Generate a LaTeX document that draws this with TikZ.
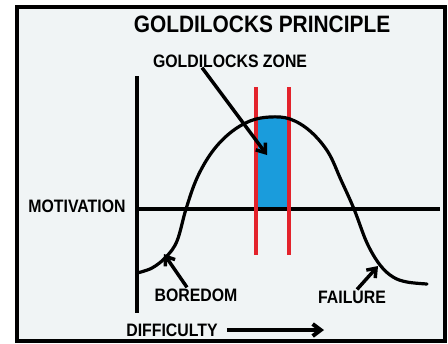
\documentclass[tikz,border=0pt]{standalone}
\usepackage{fontspec}
\newfontfamily\capsfont[FakeStretch=0.88]{Liberation Sans}
\usetikzlibrary{arrows.meta, calc}
\definecolor{paper}{HTML}{F0F4F5}
\definecolor{zoneblue}{HTML}{1A9CDC}
\definecolor{limitred}{HTML}{E3222B}

\begin{document}
\begin{tikzpicture}[
  x=0.75pt, y=-0.75pt,
  lbl/.style={inner sep=0pt, font=\capsfont\bfseries\fontsize{13.5}{15}\selectfont},
  ttl/.style={inner sep=0pt, font=\capsfont\bfseries\fontsize{17.8}{20}\selectfont},
  ln/.style={draw=black, line width=2.4pt},
  redline/.style={draw=limitred, line width=2.4pt},
  ar/.style={-{Straight Barb[length=6pt, width=9pt]}, line width=2.6pt}
]
% --- frame ---
\useasboundingbox (0,0) rectangle (448,343);
\fill[white] (0,0) rectangle (448,343);
\draw[fill=paper, line width=2.4pt] (17,7) rectangle (445,341);

% --- zone under the curve ---
\begin{scope}
  \clip (256,0) rectangle (289,209);
  \fill[zoneblue] plot[smooth, tension=0.6] coordinates {
    (137,273) (152,268) (166,257) (177,241) (186,209) (197,178) (212,152)
    (230,133) (250,121) (270,117) (290,119) (310,131) (328,152) (341,180)
    (354,209) (367,243) (380,265) (393,277) (407,282) (427,284)}
    -- (427,343) -- (137,343) -- cycle;
\end{scope}

% --- axes ---
\path[ln] (137,76) -- (137,313);
\path[ln] (137,209) -- (440,209);

% --- zone limits ---
\path[redline] (256,87) -- (256,255);
\path[redline] (289,87) -- (289,255);

% --- motivation curve ---
\path[ln, line join=round, line cap=round] plot[smooth, tension=0.6] coordinates {
  (137,273) (152,268) (166,257) (177,241) (186,209) (197,178) (212,152)
  (230,133) (250,121) (270,117) (290,119) (310,131) (328,152) (341,180)
  (354,209) (367,243) (380,265) (393,277) (407,282) (427,284)};

% --- labels ---
\node[ttl] (title)      at (262,24)  {GOLDILOCKS PRINCIPLE};
\node[lbl] (gzone)      at (230,61)  {GOLDILOCKS ZONE};
\node[lbl] (motivation) at (77,206)  {MOTIVATION};
\node[lbl] (boredom)    at (196,295) {BOREDOM};
\node[lbl] (failure)    at (352,297) {FAILURE};
\node[lbl] (difficulty) at (172,330) {DIFFICULTY};

% --- arrows ---
\coordinate (zone-tip) at (267,155);
\coordinate (bor-tip)  at (164,254);
\coordinate (fail-tip) at (378,266);
\coordinate (diff-end) at (324,330);

\draw[ar] ($(gzone.south)+(-28,0)$) -- (zone-tip);
\draw[ar] ($(boredom.north)+(-9,-1)$) -- (bor-tip);
\draw[ar] ($(failure.north)+(5,-1)$) -- (fail-tip);
\draw[ar, line width=3pt] ($(difficulty.east)+(9,0)$) -- (diff-end);
\end{tikzpicture}
\end{document}
